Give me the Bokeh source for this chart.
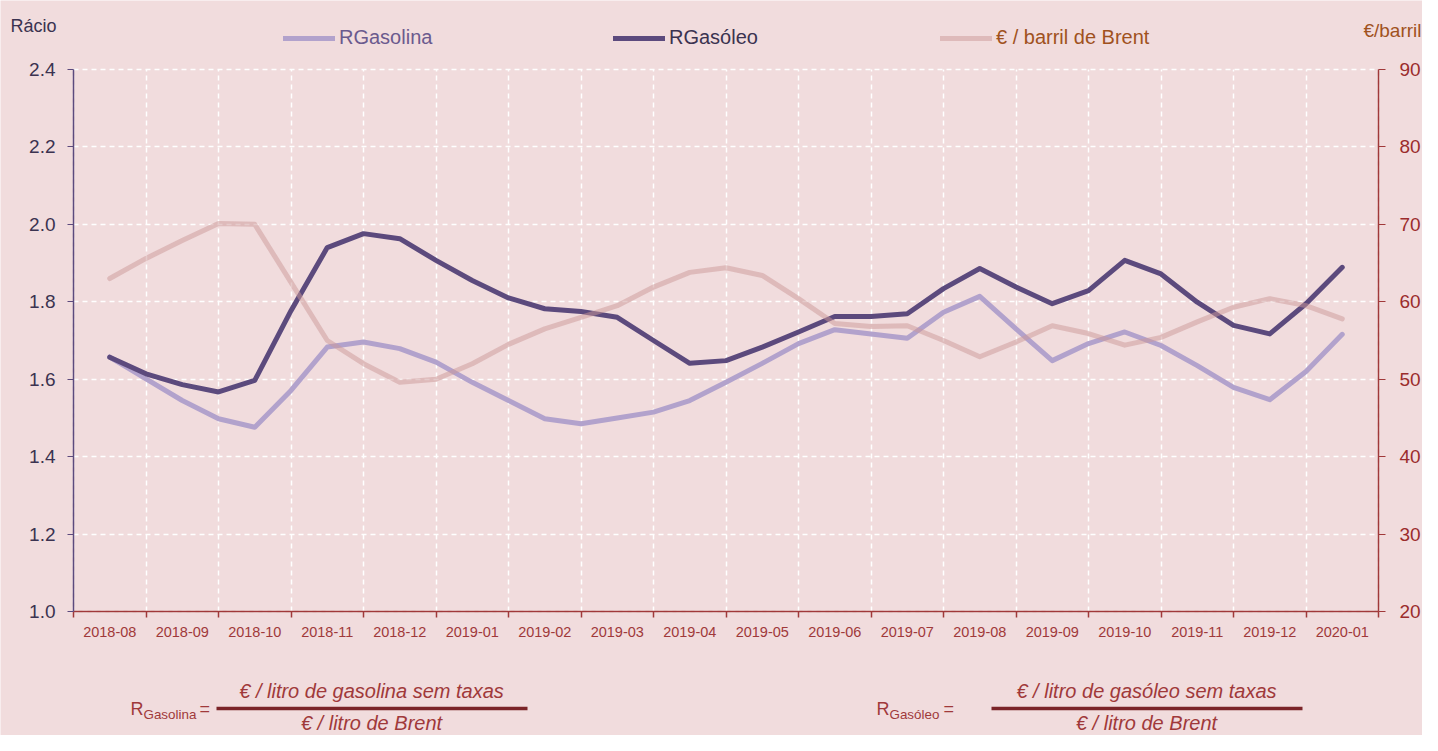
from bokeh.plotting import figure
from bokeh.models import (Range1d, LinearAxis, FixedTicker, Label, Legend, LegendItem,
                          Arrow, ColumnDataSource, PrintfTickFormatter)
from bokeh.embed import file_html
from bokeh.resources import INLINE

# ---------------- data ----------------
meses = ["2018-08", "2018-09", "2018-10", "2018-11", "2018-12", "2019-01", "2019-02",
         "2019-03", "2019-04", "2019-05", "2019-06", "2019-07", "2019-08", "2019-09",
         "2019-10", "2019-11", "2019-12", "2020-01"]

# observations every half month, starting at 2018-08
rgasolina = [1.657, 1.601, 1.545, 1.498, 1.476, 1.571, 1.683, 1.696, 1.679, 1.644,
             1.592, 1.545, 1.498, 1.485, 1.500, 1.515, 1.545, 1.592, 1.641, 1.692,
             1.728, 1.717, 1.706, 1.773, 1.814, 1.730, 1.648, 1.692, 1.722, 1.687,
             1.635, 1.579, 1.547, 1.620, 1.716]
rgasoleo = [1.657, 1.614, 1.586, 1.567, 1.597, 1.777, 1.940, 1.976, 1.963, 1.907,
            1.855, 1.810, 1.782, 1.775, 1.760, 1.700, 1.641, 1.648, 1.683, 1.722,
            1.762, 1.762, 1.769, 1.834, 1.886, 1.838, 1.795, 1.829, 1.907, 1.872,
            1.799, 1.739, 1.717, 1.795, 1.889]
brent = [63.0, 65.6, 67.9, 70.1, 70.0, 62.5, 55.0, 52.0, 49.6, 50.0,
         52.0, 54.5, 56.5, 58.0, 59.5, 61.9, 63.8, 64.4, 63.4, 60.4,
         57.2, 56.8, 56.9, 55.0, 52.9, 54.8, 56.9, 55.9, 54.4, 55.4,
         57.4, 59.3, 60.4, 59.5, 57.8]
posicao = [k / 2 for k in range(len(brent))]

y_ticks = [1.0, 1.2, 1.4, 1.6, 1.8, 2.0, 2.2, 2.4]
y2_ticks = [20, 30, 40, 50, 60, 70, 80, 90]

# ---------------- style ----------------
W, H = 1422, 735
BG = "#F1DCDD"
RED = "#A0393A"
DARKRED = "#7B2428"
PURPLE_AX = "#5C4A7D"
TXT = "#3B3350"
BROWN = "#A0521E"
C_GASOLINA = "#B2A2CC"
C_GASOLEO = "#5C4A7D"
C_BRENT = "#CB9897"
FONT = "Liberation Sans"

# plot area in canvas pixels: x 73..1378, y 69..611
PX0, PX1, PY0, PY1 = 73, 1378, 69, 611
XSTEP = (PX1 - PX0) / len(meses)
YSTEP = (PY1 - PY0) / (y_ticks[-1] - y_ticks[0])
Y2STEP = (PY1 - PY0) / (y2_ticks[-1] - y2_ticks[0])


def dx(px):
    return (px - PX0) / XSTEP - 0.5


def dy(py):
    return y_ticks[0] + (PY1 - py) / YSTEP


src = ColumnDataSource(dict(x=posicao, g=rgasolina, d=rgasoleo, b=brent))

p = figure(width=W, height=H, x_range=Range1d(dx(0), dx(W)), y_range=Range1d(dy(H), dy(0)),
           output_backend="svg", toolbar_location=None,
           min_border_left=0, min_border_right=0, min_border_top=0, min_border_bottom=0)
p.background_fill_color = BG
p.border_fill_color = BG
p.outline_line_color = None
p.extra_y_ranges = {"brent": Range1d(y2_ticks[0] - (H - PY1) / Y2STEP,
                                     y2_ticks[0] + PY1 / Y2STEP)}

XB = (-0.5, len(meses) - 0.5)
YB = (y_ticks[0], y_ticks[-1])

# x axis
xa = p.xaxis[0]
xa.fixed_location = y_ticks[0]
xa.bounds = XB
xa.ticker = FixedTicker(ticks=list(range(len(meses))),
                        minor_ticks=[i - 0.5 for i in range(len(meses) + 1)])
xa.major_label_overrides = {i: m for i, m in enumerate(meses)}
xa.major_tick_line_color = None
xa.major_tick_out = 6
xa.minor_tick_line_color = RED
xa.minor_tick_out = 6
xa.minor_tick_in = 0
xa.minor_tick_line_width = 1.5
xa.axis_line_color = RED
xa.axis_line_width = 1.5
xa.major_label_text_color = RED
xa.major_label_text_font = FONT
xa.major_label_text_font_size = "14.5px"
xa.major_label_standoff = 9

# left axis
ya = p.yaxis[0]
ya.fixed_location = XB[0]
ya.bounds = YB
ya.ticker = FixedTicker(ticks=y_ticks)
ya.formatter = PrintfTickFormatter(format="%.1f")
ya.axis_line_color = PURPLE_AX
ya.axis_line_width = 1.5
ya.major_tick_line_color = PURPLE_AX
ya.major_tick_out = 6
ya.major_tick_in = 0
ya.minor_tick_line_color = None
ya.major_label_text_color = TXT
ya.major_label_text_font = FONT
ya.major_label_text_font_size = "19px"
ya.major_label_standoff = 12

# right axis
ra = LinearAxis(y_range_name="brent", ticker=FixedTicker(ticks=y2_ticks),
                fixed_location=XB[1], bounds=(y2_ticks[0], y2_ticks[-1]))
ra.axis_line_color = RED
ra.axis_line_width = 1.5
ra.major_tick_line_color = RED
ra.major_tick_out = 7
ra.major_tick_in = 0
ra.minor_tick_line_color = None
ra.major_label_text_color = "#9B2C2C"
ra.major_label_text_font = FONT
ra.major_label_text_font_size = "19px"
ra.major_label_standoff = 14
p.add_layout(ra, "right")

# grid
p.xgrid.grid_line_color = None
p.xgrid.minor_grid_line_color = "white"
p.xgrid.minor_grid_line_dash = "5 4"
p.xgrid.minor_grid_line_width = 1.5
p.xgrid.bounds = XB
p.xgrid.cross_bounds = YB
p.ygrid.grid_line_color = "white"
p.ygrid.grid_line_dash = "5 4"
p.ygrid.grid_line_width = 1.5
p.ygrid.bounds = YB
p.ygrid.cross_bounds = XB

# lines
r_g = p.line("x", "g", source=src, line_color=C_GASOLINA, line_width=5,
             line_join="round", line_cap="round")
r_d = p.line("x", "d", source=src, line_color=C_GASOLEO, line_width=5,
             line_join="round", line_cap="round")
r_b = p.line("x", "b", source=src, y_range_name="brent", line_color=C_BRENT, line_width=5,
             line_alpha=0.5, line_join="round", line_cap="round")


# legends (three separate, each with own text colour)
def add_legend(renderer, label, color, x_px):
    lg = Legend(items=[LegendItem(label=label, renderers=[renderer])],
                location=(x_px, H - 39 - 10), orientation="horizontal",
                padding=0, margin=0, border_line_color=None, background_fill_alpha=0,
                glyph_width=52, glyph_height=20, label_height=20, label_standoff=4,
                label_text_font=FONT, label_text_font_size="20px", label_text_color=color)
    p.add_layout(lg, "center")


add_legend(r_g, "RGasolina", "#6B5A8E", 283)
add_legend(r_d, "RGasóleo", TXT, 613)
add_legend(r_b, "€ / barril de Brent", BROWN, 940)


def lab(text, px, py, color, size="19px", align="left", style="normal"):
    p.add_layout(Label(x=dx(px), y=dy(py), text=text, text_color=color, text_font=FONT,
                       text_font_size=size, text_align=align, text_baseline="middle",
                       text_font_style=style))


lab("Rácio", 10, 25, TXT, "18px")
lab("€/barril", 1421, 30, BROWN, "19px", align="right")

# formulas
for (name, sub_x, eq_x, num, cx, x0, x1) in [
        ("Gasolina", 130, 199, "€ / litro de gasolina sem taxas", 371, 216, 527),
        ("Gasóleo", 876, 943, "€ / litro de gasóleo sem taxas", 1146, 991, 1302)]:
    lab("R", sub_x, 708, RED, "18px")
    lab(name, sub_x + 13, 714, RED, "13.4px")
    lab("=", eq_x, 708, RED, "18px")
    lab(num, cx, 690, RED, "20px", align="center", style="italic")
    lab("€ / litro de Brent", cx, 722, RED, "20px", align="center", style="italic")
    p.add_layout(Arrow(end=None, start=None, x_start=dx(x0), y_start=dy(708), x_end=dx(x1),
                       y_end=dy(708), line_color=DARKRED, line_width=3.5))

open("out.html", "w").write(file_html(p, INLINE))
